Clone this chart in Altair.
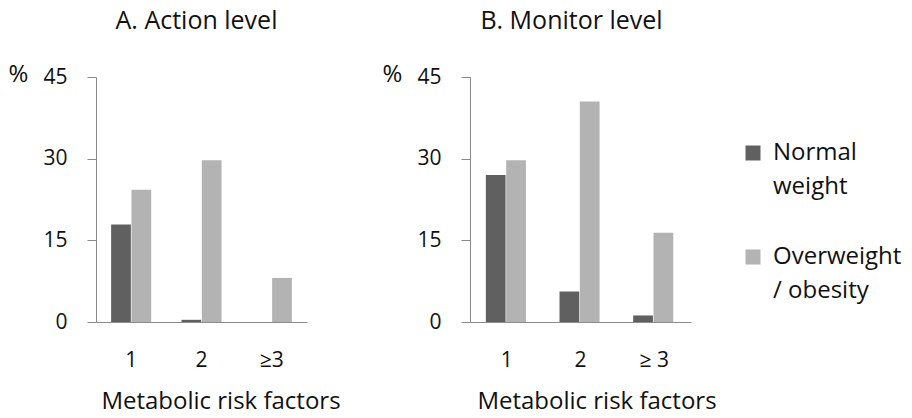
import altair as alt
import pandas as pd

categories_a = ["1", "2", "≥3"]
categories_b = ["1", "2", "≥ 3"]
groups = ["Normal weight", "Overweight / obesity"]
action_normal = [17.9, 0.4, 0.0]
action_over = [24.3, 29.7, 8.1]
monitor_normal = [27.0, 5.6, 1.2]
monitor_over = [29.7, 40.5, 16.4]
y_ticks = [0, 15, 30, 45]

FONT = "Open Sans"
TXT = "#111111"
AX = "#8a8a8a"


def frame(cats, normal, over):
    rows = []
    for c, n, o in zip(cats, normal, over):
        rows.append({"risk": c, "group": groups[0], "pct": n})
        rows.append({"risk": c, "group": groups[1], "pct": o})
    return pd.DataFrame(rows)


legend = alt.Legend(
    title=None, orient="none", legendX=645, legendY=64,
    symbolType="square", symbolSize=225, symbolStrokeWidth=0,
    labelFontSize=24, labelFont=FONT, labelColor=TXT, labelOffset=8,
    labelLimit=400, rowPadding=46, labelBaseline="middle",
    labelExpr="datum.label == 'Normal weight' ? ['Normal', 'weight'] : ['Overweight', '/ obesity']",
)


def panel(df, cats, title, width, dx, title_shift):
    return alt.Chart(df).mark_bar().encode(
        x=alt.X("risk:N", sort=cats,
                scale=alt.Scale(paddingInner=0.43, paddingOuter=0.215),
                axis=alt.Axis(title="Metabolic risk factors", labelAngle=0, ticks=False,
                              domainColor=AX, labelPadding=27, titlePadding=19,
                              titleX=width / 2 + title_shift)),
        xOffset=alt.XOffset("group:N", sort=groups, scale=alt.Scale(paddingInner=0.03)),
        y=alt.Y("pct:Q", scale=alt.Scale(domain=[0, 45], nice=False),
                axis=alt.Axis(values=y_ticks, title="%", titleAngle=0, titleX=-88, titleY=-3,
                              titleAlign="left", titleBaseline="middle", tickSize=9,
                              tickColor=AX, domainColor=AX, grid=False, labelPadding=20)),
        color=alt.Color("group:N", sort=groups,
                        scale=alt.Scale(domain=groups, range=["#606060", "#b3b3b3"]),
                        legend=legend),
    ).properties(
        width=width, height=245,
        title=alt.Title(title, fontSize=25, fontWeight="normal", font=FONT, color=TXT,
                        anchor="middle", dx=dx, offset=28),
    )


left = panel(frame(categories_a, action_normal, action_over), categories_a,
             "A. Action level", 211, -5, 19)
right = panel(frame(categories_b, monitor_normal, monitor_over), categories_b,
              "B. Monitor level", 221, -9, 16)

chart = alt.hconcat(left, right, spacing=163, bounds="flush").properties(
    padding={"left": 0, "top": 1, "right": 0, "bottom": 0}
).configure(
    style={"guide-label": {"lineHeight": 34}}
).configure_view(stroke=None).configure_axis(
    labelFont=FONT, labelFontSize=21, labelColor=TXT,
    titleFont=FONT, titleFontSize=24, titleFontWeight="normal", titleColor=TXT,
)

chart.save("out.html", embed_options={"renderer": "svg", "actions": False})
